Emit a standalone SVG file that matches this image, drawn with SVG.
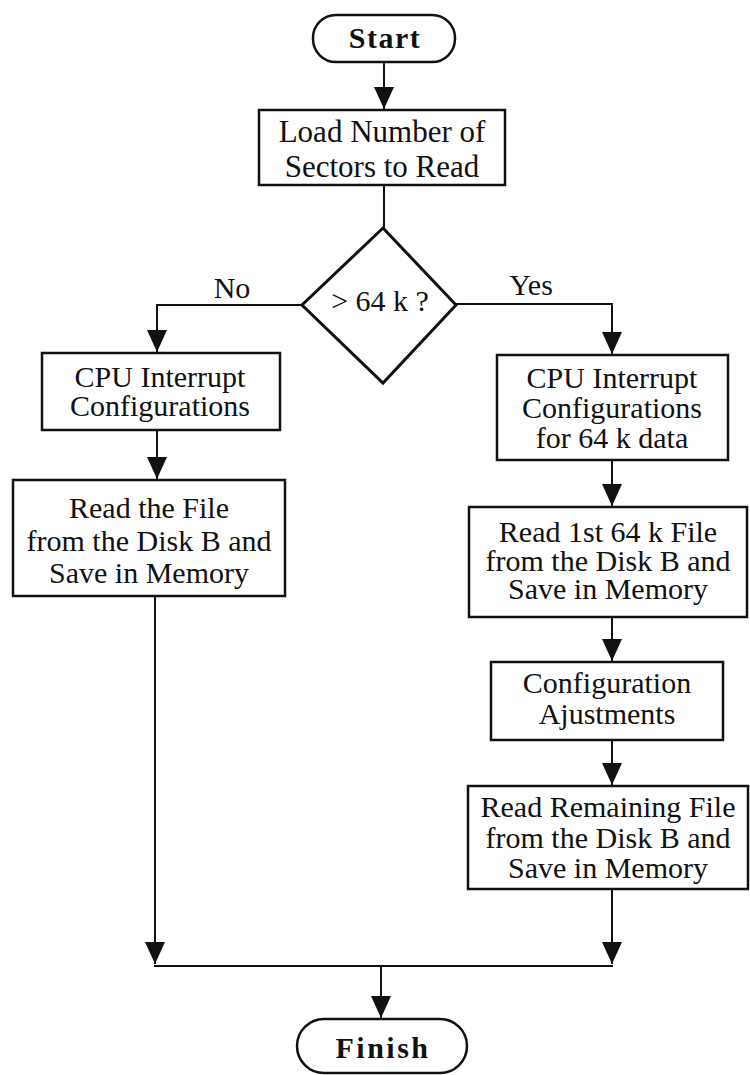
<svg xmlns="http://www.w3.org/2000/svg" width="750" height="1075" viewBox="0 0 750 1075">
  <style>
    .box { fill: #fff; stroke: #111; stroke-width: 2.5; }
    .term { fill: #fff; stroke: #111; stroke-width: 2.5; }
    .dec { fill: #fff; stroke: #111; stroke-width: 3; stroke-linejoin: miter; }
    .lbl { font-family: "Liberation Serif", "Times New Roman", serif; font-size: 30px; fill: #111; text-anchor: middle; }
    .big { font-size: 31px; }
    .bold { font-weight: bold; }
    .wire { fill: none; stroke: #111; stroke-width: 2; }
  </style>
  <defs>
    <marker id="arrow" markerUnits="userSpaceOnUse" markerWidth="24" markerHeight="22" viewBox="0 -11 23 22" refX="22" refY="0" orient="auto">
      <path d="M0,-10 L22,0 L0,10 Z" fill="#111"/>
    </marker>
  </defs>
  <rect width="750" height="1075" fill="#fff"/>

  <g id="connectors">
    <path class="wire" d="M384,62 V109" marker-end="url(#arrow)"/>
    <path class="wire" d="M384,185 V228"/>
    <path class="wire" d="M302,305 H157 V352" marker-end="url(#arrow)"/>
    <path class="wire" d="M456,304 H612 V354" marker-end="url(#arrow)"/>
    <path class="wire" d="M157,430 V479" marker-end="url(#arrow)"/>
    <path class="wire" d="M612,460 V506" marker-end="url(#arrow)"/>
    <path class="wire" d="M612,617 V661" marker-end="url(#arrow)"/>
    <path class="wire" d="M612,740 V785" marker-end="url(#arrow)"/>
    <path class="wire" d="M155,596 V964" marker-end="url(#arrow)"/>
    <path class="wire" d="M612,889 V964" marker-end="url(#arrow)"/>
    <path class="wire" d="M154,966 H613"/>
    <path class="wire" d="M381,966 V1018" marker-end="url(#arrow)"/>
    <text class="lbl" x="232" y="298">No</text>
    <text class="lbl" x="531" y="295">Yes</text>
  </g>

  <g id="start">
    <rect class="term" x="313" y="15" width="142" height="47" rx="23" ry="23"/>
    <text class="lbl bold" x="385" y="48" letter-spacing="1.5">Start</text>
  </g>

  <g id="load-sectors">
    <rect class="box" x="259" y="110" width="246" height="75"/>
    <text class="lbl big" x="382" y="142">Load Number of</text>
    <text class="lbl big" x="382" y="177">Sectors to Read</text>
  </g>

  <g id="size-check">
    <polygon class="dec" points="383,228 456,305 383,383 302,305"/>
    <text class="lbl" x="380" y="311">&gt; 64 k ?</text>
  </g>

  <g id="cpu-config">
    <rect class="box" x="42" y="353" width="238" height="77"/>
    <text class="lbl" x="160" y="387">CPU Interrupt</text>
    <text class="lbl" x="160" y="416">Configurations</text>
  </g>

  <g id="read-file">
    <rect class="box" x="13" y="480" width="272" height="116"/>
    <text class="lbl" x="149" y="518">Read the File</text>
    <text class="lbl" x="149" y="551">from the Disk B and</text>
    <text class="lbl" x="149" y="583">Save in Memory</text>
  </g>

  <g id="cpu-config-64k">
    <rect class="box" x="497" y="355" width="231" height="105"/>
    <text class="lbl" x="612" y="388">CPU Interrupt</text>
    <text class="lbl" x="612" y="418">Configurations</text>
    <text class="lbl" x="612" y="448">for 64 k data</text>
  </g>

  <g id="read-first-64k">
    <rect class="box" x="469" y="507" width="278" height="110"/>
    <text class="lbl" x="608" y="542">Read 1st 64 k File</text>
    <text class="lbl" x="608" y="571">from the Disk B and</text>
    <text class="lbl" x="608" y="599">Save in Memory</text>
  </g>

  <g id="config-adjust">
    <rect class="box" x="491" y="662" width="232" height="78"/>
    <text class="lbl" x="607" y="693">Configuration</text>
    <text class="lbl" x="607" y="724">Ajustments</text>
  </g>

  <g id="read-remaining">
    <rect class="box" x="468" y="786" width="280" height="103"/>
    <text class="lbl" x="608" y="817">Read Remaining File</text>
    <text class="lbl" x="608" y="848">from the Disk B and</text>
    <text class="lbl" x="608" y="878">Save in Memory</text>
  </g>

  <g id="finish">
    <rect class="term" x="297" y="1019" width="170" height="54" rx="27" ry="27"/>
    <text class="lbl bold" x="383" y="1058" font-size="32" letter-spacing="2.5">Finish</text>
  </g>
</svg>
